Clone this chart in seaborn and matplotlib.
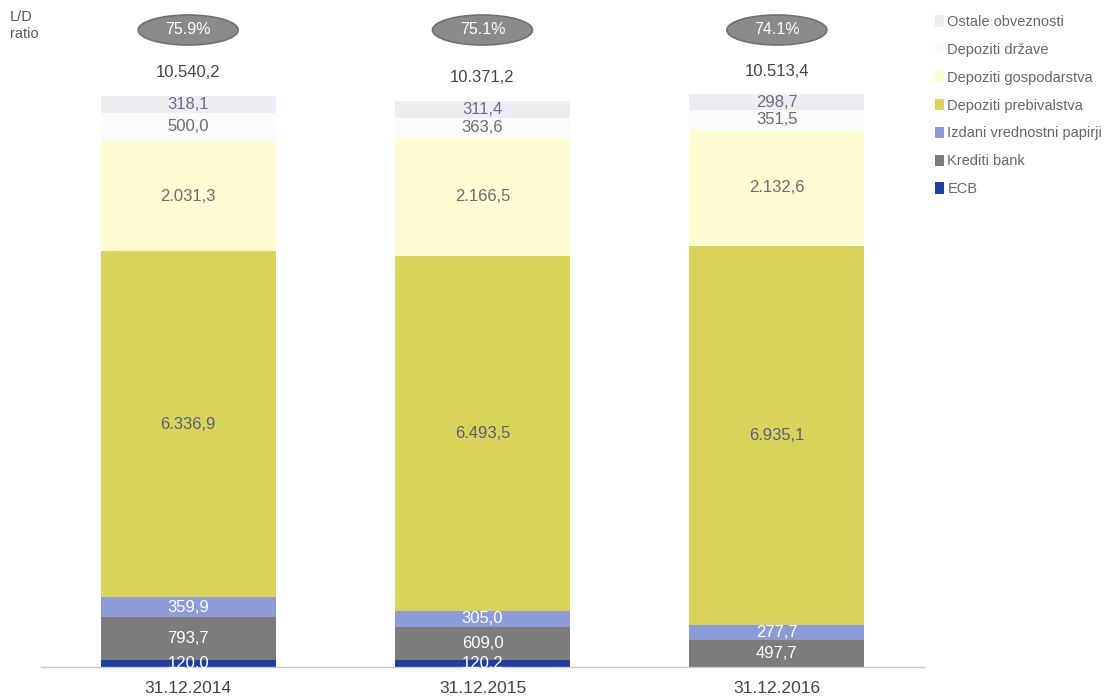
import matplotlib
matplotlib.use("Agg")
import matplotlib.pyplot as plt
from matplotlib.patches import Patch, Ellipse
import numpy as np
import pandas as pd
import seaborn as sns

# Balance-sheet funding structure (mio EUR), bottom to top
dates = ["31.12.2014", "31.12.2015", "31.12.2016"]
ecb = [120.0, 120.2, 0.0]
krediti_bank = [793.7, 609.0, 497.7]
izdani_vp = [359.9, 305.0, 277.7]
dep_prebivalstva = [6336.9, 6493.5, 6935.1]
dep_gospodarstva = [2031.3, 2166.5, 2132.6]
dep_drzave = [500.0, 363.6, 351.5]
ostale_obv = [318.1, 311.4, 298.7]
totals = [10540.2, 10371.2, 10513.4]
ld_ratio = ["75.9%", "75.1%", "74.1%"]

layers = [
    ("ECB", ecb, "#1f3f9f", "white"),
    ("Krediti bank", krediti_bank, "#7d7b7b", "white"),
    ("Izdani vrednostni papirji", izdani_vp, "#8d9bd9", "white"),
    ("Depoziti prebivalstva", dep_prebivalstva, "#d9d35c", "#5a5f7a"),
    ("Depoziti gospodarstva", dep_gospodarstva, "#fdfcd2", "#6b6b6b"),
    ("Depoziti države", dep_drzave, "#fbfbfc", "#6b6b6b"),
    ("Ostale obveznosti", ostale_obv, "#efedf3", "#6b6b8a"),
]


def fmt(v):
    s = f"{v:,.1f}"
    return s.replace(",", " ").replace(".", ",").replace(" ", ".")


sns.set_theme(style="white")
plt.rcParams["font.family"] = ["Liberation Sans", "DejaVu Sans"]

W, H = 1120, 696
fig = plt.figure(figsize=(W / 100, H / 100), dpi=100)
px_per_unit = 0.0546
ytop = 12000
ax_bottom_px = 667
ax = fig.add_axes([41 / W, (H - ax_bottom_px) / H, (924 - 41) / W,
                   ytop * px_per_unit / H])

vals = np.array([l[1] for l in layers])
cum = np.cumsum(vals, axis=0)
bar_w = 0.594

# Draw cumulative stacks from the tallest down so each layer shows its own band
for i in range(len(layers) - 1, -1, -1):
    df = pd.DataFrame({"date": dates, "value": cum[i]})
    sns.barplot(data=df, x="date", y="value", color=layers[i][2],
                saturation=1, width=bar_w, ax=ax, linewidth=0, errorbar=None)

ax.set_xlim(-0.5, 2.5)
ax.set_ylim(0, ytop)

# Segment value labels
for i, (name, v, col, tcol) in enumerate(layers):
    for j in range(len(dates)):
        if v[j] <= 0:
            continue
        lo = cum[i - 1][j] if i > 0 else 0.0
        mid = lo + v[j] / 2
        ax.text(j, mid, fmt(v[j]), ha="center", va="center", fontsize=12,
                color=tcol)

# Totals and L/D ratio badges above each bar
for j in range(len(dates)):
    ax.text(j, cum[-1][j] + 420, fmt(totals[j]), ha="center", va="center",
            fontsize=12, color="#444444")
    xpix = ax.transData.transform((j, 0))[0]
    ell = Ellipse((xpix / W, 1 - 30 / H), 100 / W, 30 / H,
                  transform=fig.transFigure, facecolor="#8a8a8a",
                  edgecolor="#707070", lw=1.2, zorder=5)
    fig.add_artist(ell)
    fig.text(xpix / W, 1 - 30 / H, ld_ratio[j], ha="center", va="center",
             fontsize=11.5, color="white", zorder=6)

ax.set_xlabel("")
ax.set_ylabel("")
ax.set_yticks([])
ax.tick_params(axis="x", length=0, pad=10, labelsize=12.5, labelcolor="#444444")
ax.set_xticks([0.5, 1.5], minor=True)
ax.tick_params(axis="x", which="minor", length=4, color="#bbbbbb", width=0.8)
for side in ["left", "right", "top"]:
    ax.spines[side].set_visible(False)
ax.spines["bottom"].set_color("#c8c8c8")
ax.spines["bottom"].set_linewidth(1)

fig.text(10 / W, 1 - 10 / H, "L/D\nratio", ha="left", va="top", fontsize=10.5,
         color="#555555", linespacing=1.3)

handles = [Patch(facecolor=l[2], edgecolor="none") for l in reversed(layers)]
labels = [l[0] for l in reversed(layers)]
fig.legend(handles, labels, loc="upper left", bbox_to_anchor=(935 / W, 1 - 15 / H),
           frameon=False, fontsize=10.5, labelcolor="#666666", handlelength=0.6,
           handleheight=0.8, handletextpad=0.25, labelspacing=0.95, borderaxespad=0,
           borderpad=0)

fig.savefig("out.png", dpi=100)
